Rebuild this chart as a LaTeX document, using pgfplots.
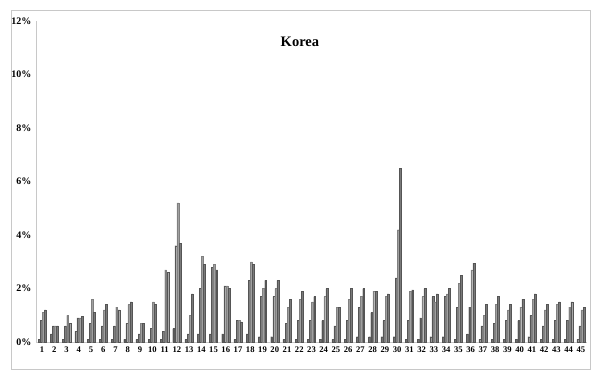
\documentclass[border=0pt]{standalone}
\usepackage{fontspec}
\setmainfont{Liberation Serif}
\usepackage{pgfplots}
\usepackage{pgfplotstable}
\pgfplotsset{compat=1.18}

% share of each category, in percent (four series per category)
\pgfplotstableread{
x  a    b    c    d
1  0.1  0.8  1.1  1.2
2  0.3  0.6  0.6  0.6
3  0.1  0.6  1.0  0.7
4  0.4  0.9  0.9  0.95
5  0.1  0.7  1.6  1.1
6  0.1  0.6  1.2  1.4
7  0.1  0.6  1.3  1.2
8  0.1  0.7  1.4  1.5
9  0.1  0.3  0.7  0.7
10 0.1  0.5  1.5  1.4
11 0.1  0.4  2.7  2.6
12 0.5  3.6  5.2  3.7
13 0.1  0.3  1.0  1.8
14 0.3  2.0  3.2  2.9
15 0.3  2.8  2.9  2.7
16 0.3  2.1  2.1  2.0
17 0.1  0.8  0.8  0.75
18 0.3  2.3  3.0  2.9
19 0.2  1.7  2.0  2.3
20 0.2  1.7  2.0  2.3
21 0.1  0.7  1.3  1.6
22 0.1  0.8  1.6  1.9
23 0.1  0.8  1.5  1.7
24 0.1  0.8  1.7  2.0
25 0.1  0.6  1.3  1.3
26 0.1  0.8  1.6  2.0
27 0.2  1.3  1.7  2.0
28 0.2  1.1  1.9  1.9
29 0.2  0.8  1.7  1.8
30 0.2  2.4  4.2  6.5
31 0.1  0.8  1.9  1.95
32 0.1  0.9  1.7  2.0
33 0.2  1.7  1.5  1.8
34 0.2  1.7  1.8  2.0
35 0.1  1.3  2.2  2.5
36 0.3  1.3  2.7  2.95
37 0.1  0.6  1.0  1.4
38 0.1  0.7  1.4  1.7
39 0.1  0.8  1.2  1.4
40 0.1  0.8  1.3  1.6
41 0.2  1.0  1.6  1.8
42 0.1  0.6  1.2  1.4
43 0.1  0.8  1.4  1.5
44 0.1  0.8  1.3  1.5
45 0.1  0.6  1.2  1.3
}\korea

\definecolor{barA}{HTML}{707070}
\definecolor{barB}{HTML}{7E7E7E}
\definecolor{barC}{HTML}{A0A0A0}
\definecolor{barD}{HTML}{7A7A7A}
\definecolor{edge}{HTML}{555555}
\definecolor{frame}{HTML}{C8C8C8}

\begin{document}
\begin{tikzpicture}[x=1pt,y=1pt]
  \useasboundingbox (0,0) rectangle (592,370);
  \draw[frame, line width=0.8pt] (11,1) rectangle (590,360);
  \begin{axis}[
    at={(36pt,28pt)}, anchor=origin,
    scale only axis,
    width=551pt, height=321pt,
    xmin=0.5, xmax=45.5,
    ymin=0, ymax=12,
    ybar=0.2pt, bar width=1.9pt,
    axis x line*=bottom, axis y line*=left,
    axis line style={frame, line width=0.8pt},
    major tick length=0pt,
    xtick={1,...,45},
    xticklabels={1,2,3,4,5,6,7,8,9,10,11,12,13,14,15,16,17,18,19,20,21,22,23,24,25,26,27,28,29,30,31,32,33,34,35,36,37,38,39,40,41,42,43,44,45},
    xticklabel style={font=\bfseries\fontsize{8.6}{8.6}\selectfont, yshift=-1pt},
    ytick={0,2,4,6,8,10,12},
    yticklabels={0\%,2\%,4\%,6\%,8\%,10\%,12\%},
    yticklabel style={font=\bfseries\fontsize{10}{10}\selectfont, xshift=-1pt},
    every axis plot/.append style={draw=edge, line width=0.3pt},
    clip=false,
  ]
    \addplot[fill=barA] table[x=x,y=a] {\korea};
    \addplot[fill=barB] table[x=x,y=b] {\korea};
    \addplot[fill=barC, draw=barC!80!black] table[x=x,y=c] {\korea};
    \addplot[fill=barD] table[x=x,y=d] {\korea};
    \node[font=\bfseries\fontsize{14.5}{14.5}\selectfont] at (rel axis cs:0.479,0.935) {Korea};
  \end{axis}
\end{tikzpicture}
\end{document}
